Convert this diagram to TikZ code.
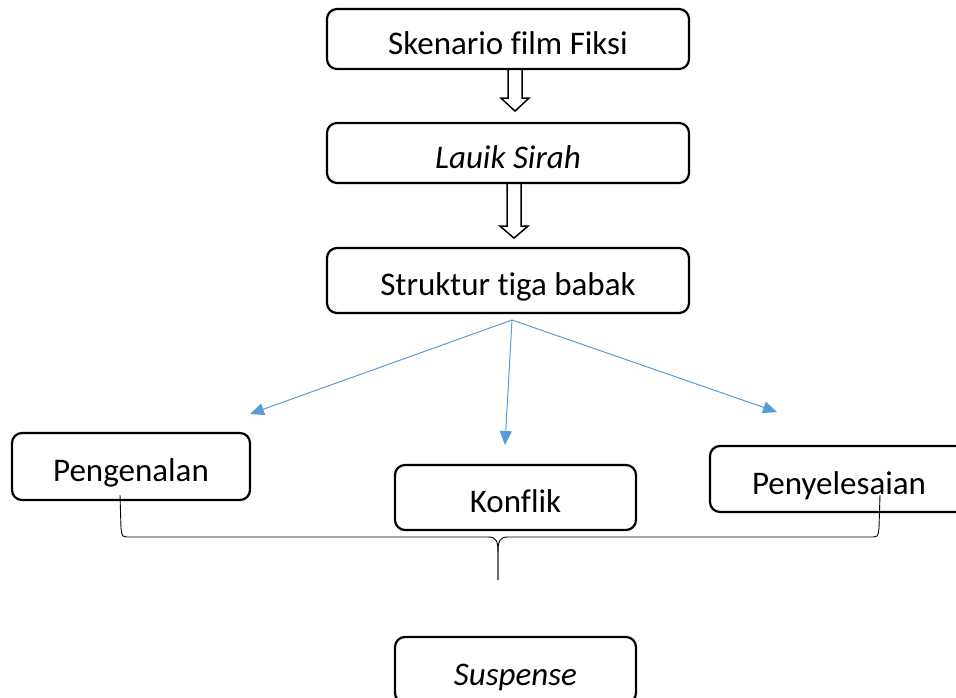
\documentclass[tikz,border=0pt]{standalone}
\usepackage{fontspec}
\setmainfont{Carlito}[Ligatures=NoCommon]
\usetikzlibrary{calc,arrows.meta}
\definecolor{linkblue}{RGB}{91,155,213}
% hollow down arrow: start, shaft length, head length
\newcommand{\hollowdown}[3]{%
  \draw[line width=1.5pt,line join=miter] ($(#1)+(-7,0)$) -- ++(0,#2) -- ++(-7,0)
    -- ++(14,#3) -- ++(14,-#3) -- ++(-7,0) -- ++(0,-#2);}
\begin{document}
\begin{tikzpicture}[x=1pt,y=-1pt,
    box/.style={draw=black,rectangle,rounded corners=10pt,line width=2.2pt,inner sep=0pt,text height=30pt,text depth=0pt,font=\fontsize{33}{38}\selectfont},
    link/.style={draw=linkblue,line width=1pt,-{Triangle[length=14pt,width=12pt]}},
    brace/.style={draw=black,line width=0.9pt}
  ]
  \useasboundingbox (0,0) rectangle (956,697);
  \node[box,minimum width=362pt,minimum height=60pt] (sken) at (508,39) {Skenario film Fiksi};
  \node[box,minimum width=362pt,minimum height=60pt] (lauik) at (508,153) {\itshape Lauik Sirah};
  \node[box,minimum width=362pt,minimum height=65pt] (babak) at (508,280.5) {Struktur tiga babak};
  \node[box,minimum width=238pt,minimum height=67pt] (kenal) at (131,466.5) {Pengenalan};
  \node[box,minimum width=241pt,minimum height=65pt] (konf) at (515.5,497.5) {Konflik};
  \node[box,minimum width=258pt,minimum height=66pt] (selesai) at (839,479) {Penyelesaian};
  \node[box,minimum width=241pt,minimum height=66pt] (susp) at (515.5,670) {\itshape Suspense};

  % hollow arrows between the top boxes
  \coordinate (h1) at ($(sken.south)+(7,0)$);
  \coordinate (h2) at ($(lauik.south)+(6,0)$);
  \hollowdown{h1}{28}{13}
  \hollowdown{h2}{42}{12}

  % three acts
  \coordinate (fork) at (512,320);
  \coordinate (tokenal) at (250,414);
  \coordinate (tokonf) at (505,445);
  \coordinate (toselesai) at (777,412);
  \draw[link] (fork) -- (tokenal);
  \draw[link] (fork) -- (tokonf);
  \draw[link] (fork) -- (toselesai);

  % brace
  \coordinate (bl) at (120,495);
  \coordinate (br) at (880,495);
  \coordinate (bm) at (498,580);
  \draw[brace] (bl) -- (121,528) .. controls (122,537) .. (130,537) -- (488,537)
    .. controls (497,537) and (498,541) .. (498,555) -- (bm);
  \draw[brace] (bm) -- (498,555) .. controls (498,541) and (499,537) .. (508,537)
    -- (870,537) .. controls (878,537) .. (879,528) -- (br);
\end{tikzpicture}
\end{document}
